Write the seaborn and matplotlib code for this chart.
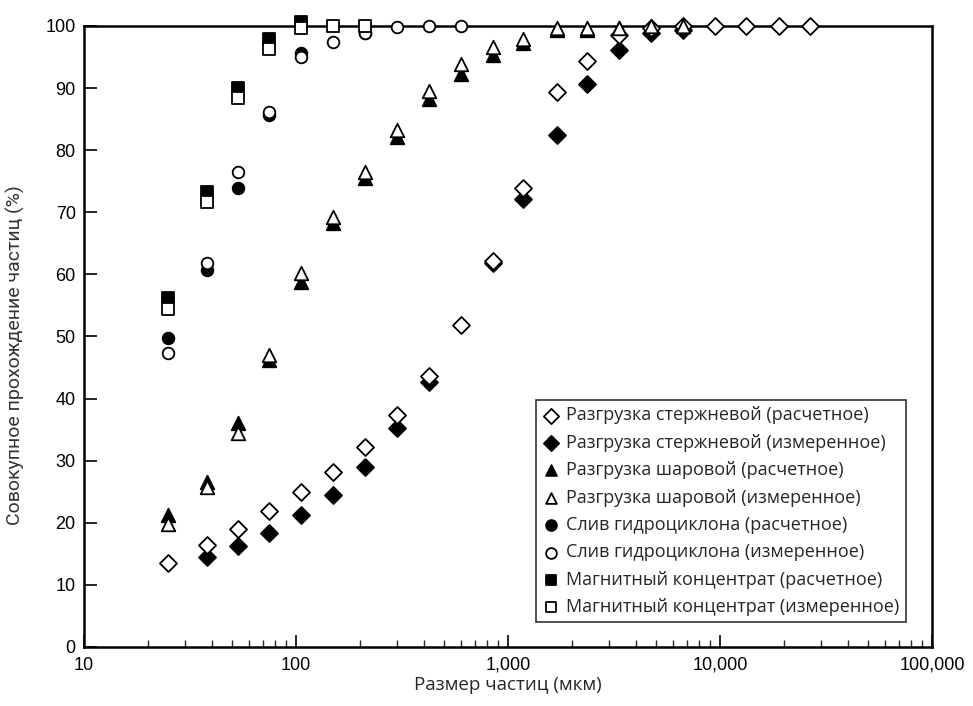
import numpy as np
import pandas as pd
import matplotlib
matplotlib.use("Agg")
import matplotlib.pyplot as plt
import seaborn as sns
from matplotlib.ticker import LogLocator, NullFormatter

sns.set_theme(style="white")
plt.rcParams['font.family'] = ['Liberation Sans', 'DejaVu Sans']

# ---- data ----
rod_calc_x = [25, 38, 53, 75, 106, 150, 212, 300, 425, 600, 850, 1180, 1700, 2360,
              3350, 4750, 6700, 9500, 13200, 19000, 26500]
rod_calc_y = [13.5, 16.4, 19.0, 21.9, 25.0, 28.2, 32.2, 37.4, 43.6, 51.9, 62.2, 73.9,
              89.4, 94.4, 98.6, 99.7, 100, 100, 100, 100, 100]
rod_meas_x = [38, 53, 75, 106, 150, 212, 300, 425, 850, 1180, 1700, 2360, 3350, 4750, 6700]
rod_meas_y = [14.5, 16.3, 18.4, 21.3, 24.5, 29.0, 35.3, 42.7, 61.8, 72.1, 82.4, 90.6,
              96.1, 98.9, 99.4]
ball_x = [25, 38, 53, 75, 106, 150, 212, 300, 425, 600, 850, 1180, 1700, 2360, 3350,
          4750, 6700]
ball_calc_y = [21.3, 26.6, 36.1, 46.2, 58.8, 68.3, 75.6, 82.2, 88.3, 92.3, 95.4, 97.2,
               99.4, 99.4, 99.6, 99.8, 100]
ball_meas_y = [19.8, 25.8, 34.5, 47.0, 60.2, 69.3, 76.5, 83.3, 89.6, 93.8, 96.6, 97.9,
               99.7, 99.7, 99.7, 100, 100]
cyc_calc_x = [25, 38, 53, 75, 106, 212]
cyc_calc_y = [49.8, 60.7, 73.9, 85.7, 95.6, 98.9]
cyc_meas_x = [25, 38, 53, 75, 106, 150, 212, 300, 425, 600]
cyc_meas_y = [47.3, 61.8, 76.5, 86.2, 95.0, 97.4, 98.9, 99.8, 100, 100]
mag_calc_x = [25, 38, 53, 75, 106]
mag_calc_y = [56.2, 73.3, 90.0, 97.9, 100.7]
mag_meas_x = [25, 38, 53, 75, 106, 150, 212]
mag_meas_y = [54.4, 71.7, 88.4, 96.3, 99.6, 100, 100]

x_ticks = [10, 100, 1000, 10000, 100000]
x_tick_labels = ["10", "100", "1,000", "10,000", "100,000"]

labels = ["Разгрузка стержневой (расчетное)",
          "Разгрузка стержневой (измеренное)",
          "Разгрузка шаровой (расчетное)",
          "Разгрузка шаровой (измеренное)",
          "Слив гидроциклона (расчетное)",
          "Слив гидроциклона (измеренное)",
          "Магнитный концентрат (расчетное)",
          "Магнитный концентрат (измеренное)"]

series = [
    (rod_calc_x, rod_calc_y, "D", "white", 75, 5),
    (rod_meas_x, rod_meas_y, "D", "black", 75, 4),
    (ball_x, ball_calc_y, "^", "black", 95, 4),
    (ball_x, ball_meas_y, "^", "white", 95, 5),
    (cyc_calc_x, cyc_calc_y, "o", "black", 70, 4),
    (cyc_meas_x, cyc_meas_y, "o", "white", 70, 5),
    (mag_calc_x, mag_calc_y, "s", "black", 65, 4),
    (mag_meas_x, mag_meas_y, "s", "white", 65, 5),
]

fig = plt.figure(figsize=(9.73, 7.06), dpi=100)
ax = fig.add_axes([0.0863, 0.0836, 0.8716, 0.8796])

handles = []
for (xs, ys, mk, fc, s, z), lab in zip(series, labels):
    df = pd.DataFrame({"x": xs, "y": ys})
    sns.scatterplot(data=df, x="x", y="y", marker=mk, s=s, color=fc,
                    edgecolor="black", linewidth=1.3, ax=ax, zorder=z,
                    clip_on=False, label=lab, legend=False)
    handles.append(ax.collections[-1])

ax.set_xscale("log")
ax.set_xlim(10, 100000)
ax.set_ylim(0, 100)
ax.set_xticks(x_ticks)
ax.set_xticklabels(x_tick_labels)
ax.xaxis.set_minor_locator(LogLocator(base=10, subs=np.arange(2, 10)))
ax.xaxis.set_minor_formatter(NullFormatter())
ax.set_yticks(np.arange(0, 101, 10))
ax.tick_params(axis="both", which="major", direction="in", length=9, width=1.2,
               labelsize=13, colors="black", bottom=True, left=True)
ax.tick_params(axis="x", which="minor", direction="in", length=5, width=1.0, bottom=True)
ax.tick_params(axis="x", which="major", pad=7)
ax.tick_params(axis="y", which="major", pad=6)

for sp in ax.spines.values():
    sp.set_color("black")
    sp.set_linewidth(1.8)

ax.set_xlabel("Размер частиц (мкм)", fontsize=13.5, family=["Open Sans", "DejaVu Sans"],
              labelpad=2)
ax.set_ylabel("Совокупное прохождение частиц (%)", fontsize=14, color="#333333",
              family=["Roboto", "DejaVu Sans"], labelpad=4)
ax.yaxis.set_label_coords(-0.07, 0.47)

leg = ax.legend(handles=handles, labels=labels, loc="lower right",
                bbox_to_anchor=(0.98, 0.025), frameon=True, fancybox=False,
                edgecolor="black", handletextpad=0.35,
                borderpad=0.35, labelspacing=0.52, handlelength=1.0,
                prop={"family": ["Open Sans", "DejaVu Sans"], "size": 13})
leg.get_frame().set_linewidth(1.2)
for h in leg.legend_handles:
    h.set_sizes([60])

fig.savefig("out.png", dpi=100, facecolor="white")
